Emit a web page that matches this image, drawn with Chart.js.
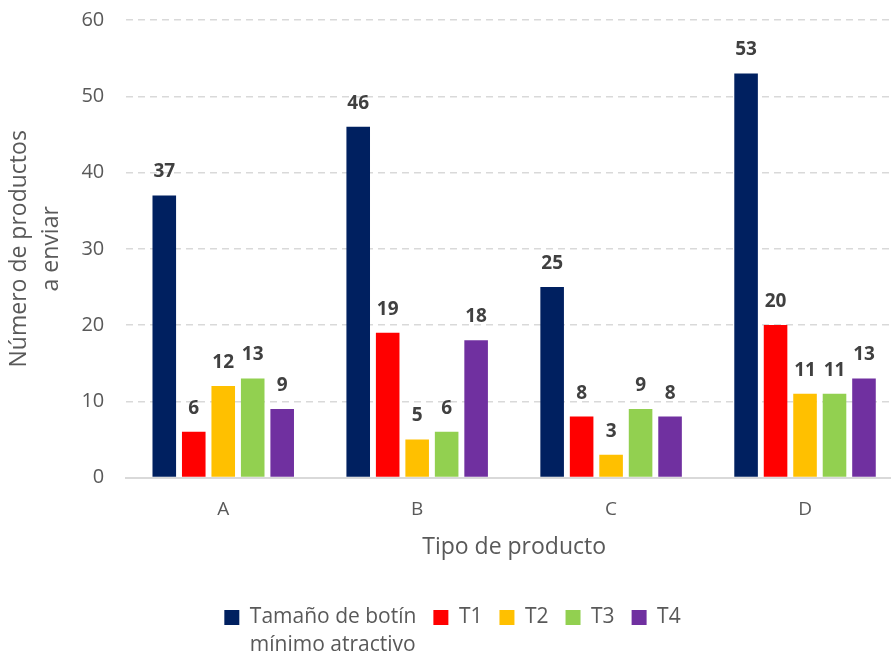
<!DOCTYPE html>
<html lang="es">
<head>
<meta charset="utf-8">
<title>Número de productos a enviar por tipo de producto</title>
<script src="https://cdn.jsdelivr.net/npm/chart.js@4.4.1/dist/chart.umd.min.js"></script>
<style>
  html, body { margin: 0; padding: 0; background: #fff; overflow: hidden; }
  #wrap { width: 904px; height: 658px; }
</style>
</head>
<body>
<div id="wrap"><canvas id="grafico"></canvas></div>
<script>
const categorias = ['A', 'B', 'C', 'D'];
const nombresSeries = [['Tamaño de botín', 'mínimo atractivo'], 'T1', 'T2', 'T3', 'T4'];
const botinMinimo = [37, 46, 25, 53];
const t1 = [6, 19, 8, 20];
const t2 = [12, 5, 3, 11];
const t3 = [13, 6, 9, 11];
const t4 = [9, 18, 8, 13];
const colores = ['#002060', '#FF0000', '#FFC000', '#92D050', '#7030A0'];

const fuente = '"Open Sans", sans-serif';
const gris = '#595959';

// numeros en negrita sobre cada barra
const etiquetasValor = {
  id: 'etiquetasValor',
  afterDatasetsDraw(chart) {
    const ctx = chart.ctx;
    ctx.save();
    ctx.font = 'bold 19px ' + fuente;
    ctx.fillStyle = '#404040';
    ctx.textAlign = 'center';
    ctx.textBaseline = 'alphabetic';
    chart.data.datasets.forEach((ds, i) => {
      chart.getDatasetMeta(i).data.forEach((bar, j) => {
        ctx.fillText(ds.data[j], bar.x, bar.y - 18);
      });
    });
    ctx.restore();
  }
};

// la leyenda solo pinta la primera linea; el resto de lineas va aqui
const leyendaMultilinea = {
  id: 'leyendaMultilinea',
  afterDraw(chart) {
    const legend = chart.legend;
    const opts = legend.options.labels;
    const ctx = chart.ctx;
    ctx.save();
    ctx.font = opts.font.size + 'px ' + fuente;
    ctx.fillStyle = opts.color;
    ctx.textAlign = 'left';
    ctx.textBaseline = 'middle';
    legend.legendItems.forEach((item, i) => {
      const label = chart.data.datasets[item.datasetIndex].label;
      if (!Array.isArray(label)) return;
      const hit = legend.legendHitBoxes[i];
      const x = hit.left + opts.boxWidth + opts.font.size / 2;
      label.slice(1).forEach((linea, k) => {
        ctx.fillText(linea, x, hit.top + hit.height / 2 + 28 * (k + 1));
      });
    });
    ctx.restore();
  }
};

const series = [botinMinimo, t1, t2, t3, t4];

new Chart(document.getElementById('grafico'), {
  type: 'bar',
  data: {
    labels: categorias,
    datasets: series.map((valores, i) => ({
      label: nombresSeries[i],
      data: valores,
      backgroundColor: colores[i],
      borderWidth: 0,
      categoryPercentage: 0.76,
      barPercentage: 0.8,
    })),
  },
  options: {
    responsive: true,
    maintainAspectRatio: false,
    animation: false,
    layout: { padding: { top: 20, right: 2, bottom: 20, left: 3 } },
    scales: {
      x: {
        grid: { display: false, drawTicks: false },
        border: { color: '#d9d9d9', width: 2 },
        ticks: { color: gris, font: { family: fuente, size: 19 }, padding: 21 },
        title: {
          display: true,
          text: 'Tipo de producto',
          color: gris,
          font: { family: fuente, size: 23 },
          padding: { top: -9, bottom: 29 },
        },
      },
      y: {
        min: 0,
        max: 60,
        // el hueco entre numeros y rejilla sale de una marca invisible
        ticks: { stepSize: 10, color: gris, font: { family: fuente, size: 20 }, padding: 2 },
        grid: { color: '#d9d9d9', lineWidth: 1.5, drawTicks: true, tickLength: 20, tickColor: 'rgba(0,0,0,0)' },
        border: { display: false, dash: [7, 5] },
        title: {
          display: true,
          text: ['Número de productos', 'a enviar'],
          color: gris,
          font: { family: fuente, size: 23, lineHeight: 1.4 },
          padding: { top: 0, bottom: 12 },
        },
      },
    },
    plugins: {
      tooltip: { enabled: false },
      legend: {
        position: 'bottom',
        labels: {
          color: gris,
          font: { family: fuente, size: 21 },
          boxWidth: 15,
          boxHeight: 15,
          padding: 17,
          generateLabels(chart) {
            const items = Chart.defaults.plugins.legend.labels.generateLabels(chart);
            items.forEach(it => {
              const l = chart.data.datasets[it.datasetIndex].label;
              if (Array.isArray(l)) it.text = l[0];
            });
            return items;
          },
        },
      },
    },
  },
  plugins: [etiquetasValor, leyendaMultilinea],
});
</script>
</body>
</html>
